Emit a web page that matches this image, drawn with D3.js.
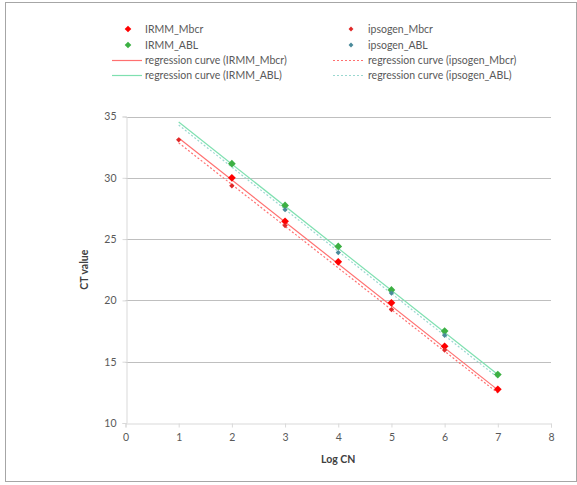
<!DOCTYPE html>
<html><head><meta charset="utf-8">
<script src="https://cdn.jsdelivr.net/npm/d3@7"></script>
<style>body{margin:0;background:#fff;}svg{display:block;font-family:Lato,"Liberation Sans",sans-serif;}</style>
</head><body><svg id="c" width="577" height="485"></svg>
<script>
const xTicks = [0,1,2,3,4,5,6,7,8];
const yTicks = [10,15,20,25,30,35];
const irmmMbcrX = [2,3,4,5,6,7];
const irmmMbcrY = [30.0,26.45,23.15,19.8,16.25,12.75];
const ipsMbcrX = [1,2,3,5,6];
const ipsMbcrY = [33.1,29.35,26.1,19.25,15.95];
const irmmAblX = [2,3,4,5,6,7];
const irmmAblY = [31.15,27.75,24.4,20.85,17.5,13.95];
const ipsAblX = [3,4,5,6];
const ipsAblY = [27.4,23.9,20.6,17.15];
// regression curves: value at x=1 and x=7
const regX = [1,7];
const regIrmmMbcr = [33.25,12.7];
const regIpsMbcr = [32.85,12.45];
const regIrmmAbl = [34.55,13.95];
const regIpsAbl = [34.3,13.7];
const legendLabels = ["IRMM_Mbcr","IRMM_ABL","regression curve (IRMM_Mbcr)","regression curve (IRMM_ABL)",
  "ipsogen_Mbcr","ipsogen_ABL","regression curve (ipsogen_Mbcr)","regression curve (ipsogen_ABL)"];

const svg = d3.select("#c");
svg.append("rect").attr("x",5.5).attr("y",2.5).attr("width",571).attr("height",479)
  .attr("fill","#fff").attr("stroke","#a6a6a6").attr("stroke-width",1);

const x = d3.scaleLinear().domain([0,8]).range([125.5,551]);
const y = d3.scaleLinear().domain([10,35]).range([423,116.5]);
const g = svg.append("g");
const txt = "#595959";

g.selectAll(".grid").data(yTicks.filter(v=>v>10)).join("line")
  .attr("x1",x(0)).attr("x2",x(8)).attr("y1",d=>Math.round(y(d))+0.5).attr("y2",d=>Math.round(y(d))+0.5)
  .attr("stroke","#bfbfbf").attr("stroke-width",1);

const xa = g.append("g").attr("transform",`translate(0,${Math.round(y(10))+0.5})`)
  .call(d3.axisBottom(x).tickValues(xTicks).tickSize(4).tickPadding(6));
const ya = g.append("g").attr("transform",`translate(${Math.round(x(0))+0.5},0)`)
  .call(d3.axisLeft(y).tickValues(yTicks).tickSize(4).tickPadding(6));
[xa,ya].forEach(a=>{
  a.select(".domain").attr("stroke","#d9d9d9");
  a.selectAll(".tick line").attr("stroke","#d9d9d9");
  a.selectAll("text").attr("fill",txt).style("font-size","10.5px").style("font-family","Lato,sans-serif");
});

svg.append("text").attr("x",x(4)).attr("y",463).attr("text-anchor","middle")
  .attr("fill","#404040").style("font-size","10.5px").style("font-weight","bold").text("Log CN");
svg.append("text").attr("transform",`translate(88,${y(22.5)}) rotate(-90)`).attr("text-anchor","middle")
  .attr("fill","#404040").style("font-size","10.5px").style("font-weight","bold").text("CT value");

const cRed="#ff0000", cRedLine="#ff7070", cGreen="#3cb043", cGreenLine="#7fe0b0", cBlue="#4a8a9a", cBlueLine="#9ad8d0";
const line = d3.line().x(d=>x(d[0])).y(d=>y(d[1]));
function reg(vals,color,dash){
  g.append("path").attr("d",line(regX.map((v,i)=>[v,vals[i]]))).attr("fill","none")
   .attr("stroke",color).attr("stroke-width",1.2).attr("stroke-dasharray",dash?"2,2":null);
}
reg(regIrmmAbl,cGreenLine,false);
reg(regIpsAbl,cBlueLine,true);
reg(regIrmmMbcr,cRedLine,false);
reg(regIpsMbcr,cRedLine,true);

const marker = s => d3.symbol(d3.symbolSquare,s)();
function pts(xs,ys,color,size){
  g.append("g").selectAll("path").data(xs.map((v,i)=>[v,ys[i]])).join("path")
   .attr("transform",d=>`translate(${x(d[0])},${y(d[1])}) rotate(45)`)
   .attr("d",marker(size)).attr("fill",color);
}
pts(irmmMbcrX,irmmMbcrY,cRed,30);
pts(irmmAblX,irmmAblY,cGreen,30);
pts(ipsMbcrX,ipsMbcrY,"#e02828",14);
pts(ipsAblX,ipsAblY,cBlue,14);

const rows=[29,45,60,75];
const leg = svg.append("g");
function legItem(i,col){
  const ry=rows[i%4];
  const mx = col===0?128:351, tx = col===0?145:368, lx1 = col===0?112:333, lx2 = col===0?142:365;
  const kinds = col===0
    ? [["pt",cRed,22],["pt",cGreen,22],["ln",cRedLine,false],["ln",cGreenLine,false]]
    : [["pt","#e02828",12],["pt",cBlue,12],["ln",cRedLine,true],["ln",cBlueLine,true]];
  const k=kinds[i%4];
  if(k[0]==="pt"){
    leg.append("path").attr("transform",`translate(${mx},${ry}) rotate(45)`).attr("d",marker(k[2])).attr("fill",k[1]);
  } else {
    leg.append("line").attr("x1",lx1).attr("x2",lx2).attr("y1",ry+0.5).attr("y2",ry+0.5)
      .attr("stroke",k[1]).attr("stroke-width",1.2).attr("stroke-dasharray",k[2]?"2,2":null);
  }
  leg.append("text").attr("x",tx).attr("y",ry+3.5).attr("fill",txt).style("font-size","10.5px").text(legendLabels[i]);
}
for(let i=0;i<8;i++) legItem(i, i<4?0:1);
</script></body></html>
